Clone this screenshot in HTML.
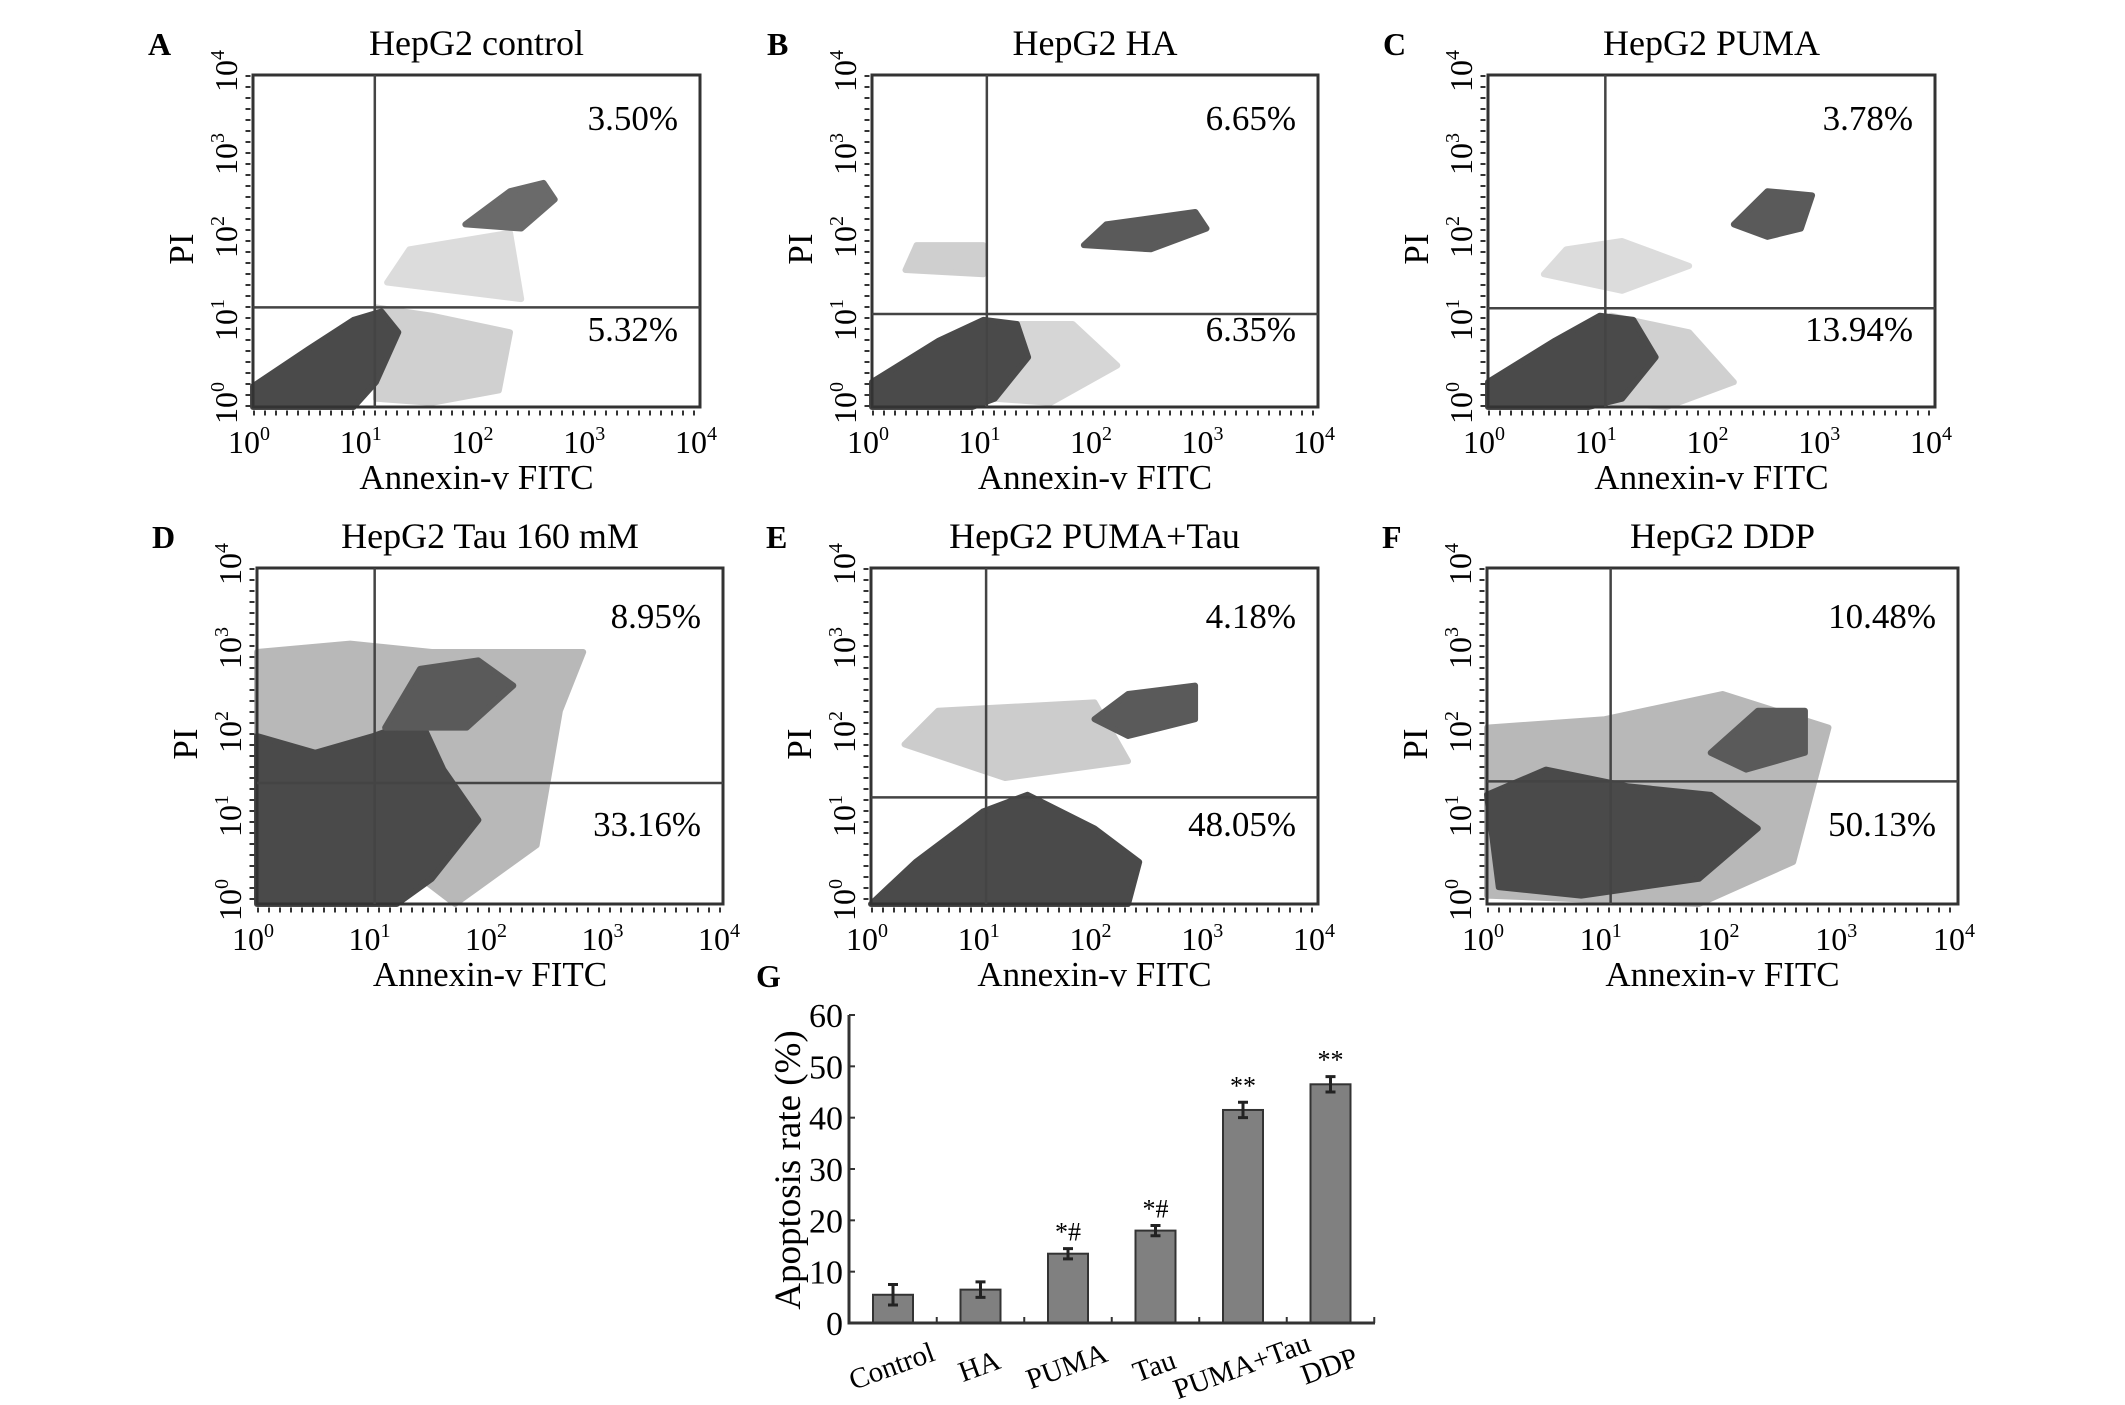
<!DOCTYPE html>
<html><head><meta charset="utf-8"><style>
html,body{margin:0;padding:0;background:#fff;}
svg{display:block;font-family:"Liberation Serif",serif;}
</style></head><body>
<svg id="fig" width="2125" height="1405" viewBox="0 0 2125 1405" xmlns="http://www.w3.org/2000/svg"></svg>
<script>
const NS="http://www.w3.org/2000/svg";
const svg=document.getElementById('fig');
function mk(tag,attrs,parent,text){const e=document.createElementNS(NS,tag);for(const k in attrs)e.setAttribute(k,attrs[k]);if(text!==undefined)e.textContent=text;(parent||svg).appendChild(e);return e;}

// ---- flow panels data ----
const panelLetters=["A","B","C","D","E","F"];
const panelTitles=["HepG2 control","HepG2 HA","HepG2 PUMA","HepG2 Tau 160 mM","HepG2 PUMA+Tau","HepG2 DDP"];
const upperPct=["3.50%","6.65%","3.78%","8.95%","4.18%","10.48%"];
const lowerPct=["5.32%","6.35%","13.94%","33.16%","48.05%","50.13%"];
const gateX=[1.09,1.03,1.05,1.01,1.03,1.05];
const gateY=[1.2,1.12,1.19,1.44,1.27,1.46];
const decadeTicks=["0","1","2","3","4"];
const boxes=[[253,700,75,407],[872,1318,75,407],[1488,1935,75,407],[257,723,568,904],[871,1318,568,904],[1487,1958,568,904]];
const blobs=[
 [{f:"#d0d0d0",p:[[1.1,0.1],[1.1,1.2],[1.6,1.1],[2.3,0.9],[2.2,0.2],[1.6,0.05]]},
  {f:"#dcdcdc",p:[[1.2,1.5],[1.4,1.9],[2.3,2.1],[2.4,1.3]]},
  {f:"#4a4a4a",p:[[0,0],[0,0.25],[0.5,0.7],[0.9,1.05],[1.15,1.15],[1.3,0.9],[1.1,0.3],[0.9,0]]},
  {f:"#6a6a6a",p:[[1.9,2.2],[2.3,2.6],[2.6,2.7],[2.7,2.5],[2.4,2.15]]}],
 [{f:"#d6d6d6",p:[[1.1,0.1],[1.1,1.0],[1.8,1.0],[2.2,0.5],[1.6,0.05]]},
  {f:"#cfcfcf",p:[[0.3,1.65],[0.4,1.95],[1.0,1.95],[1.0,1.6]]},
  {f:"#4a4a4a",p:[[0,0],[0,0.3],[0.6,0.8],[1.0,1.05],[1.3,1.0],[1.4,0.6],[1.1,0.1],[0.9,0]]},
  {f:"#5a5a5a",p:[[1.9,1.95],[2.1,2.2],[2.9,2.35],[3.0,2.15],[2.5,1.9]]}],
 [{f:"#d0d0d0",p:[[1.1,0.05],[1.1,1.1],[1.8,0.9],[2.2,0.3],[1.6,0.0]]},
  {f:"#dcdcdc",p:[[0.5,1.6],[0.7,1.9],[1.2,2.0],[1.8,1.7],[1.2,1.4]]},
  {f:"#4a4a4a",p:[[0,0],[0,0.3],[0.6,0.8],[1.0,1.1],[1.3,1.05],[1.5,0.6],[1.2,0.1],[0.9,0]]},
  {f:"#5a5a5a",p:[[2.2,2.2],[2.5,2.6],[2.9,2.55],[2.8,2.15],[2.5,2.05]]}],
 [{f:"#b8b8b8",p:[[0,1.8],[0,3.0],[0.8,3.1],[1.5,3.0],[2.8,3.0],[2.6,2.3],[2.4,0.7],[1.7,0.0]]},
  {f:"#4a4a4a",p:[[0,0],[0,2.0],[0.5,1.8],[1.0,2.0],[1.4,2.2],[1.6,1.6],[1.9,1.0],[1.5,0.3],[1.2,0]]},
  {f:"#5a5a5a",p:[[1.1,2.1],[1.4,2.8],[1.9,2.9],[2.2,2.6],[1.8,2.1]]}],
 [{f:"#cccccc",p:[[0.3,1.9],[0.6,2.3],[2.0,2.4],[2.3,1.7],[1.2,1.5]]},
  {f:"#4a4a4a",p:[[0,0],[0.4,0.5],[1.0,1.1],[1.4,1.3],[2.0,0.9],[2.4,0.5],[2.3,0],[0,0]]},
  {f:"#5a5a5a",p:[[2.0,2.2],[2.3,2.5],[2.9,2.6],[2.9,2.2],[2.3,2.0]]}],
 [{f:"#b8b8b8",p:[[0,0.1],[0,2.1],[1.0,2.2],[2.0,2.5],[2.9,2.1],[2.6,0.5],[1.8,0.0]]},
  {f:"#4a4a4a",p:[[0.1,0.2],[0,1.3],[0.5,1.6],[1.2,1.4],[1.9,1.3],[2.3,0.9],[1.8,0.3],[0.8,0.1]]},
  {f:"#5a5a5a",p:[[1.9,1.8],[2.3,2.3],[2.7,2.3],[2.7,1.8],[2.2,1.6]]}]
];

for(let i=0;i<6;i++){
  const [L,R,T,B]=boxes[i];
  const xs=d=>L+d/4*(R-L), ys=d=>B-d/4*(B-T);
  const g=mk('g',{});
  
  
  const lt=mk('text',{x:L-105,y:T-20,'font-size':32,'font-weight':'bold'},g,panelLetters[i]);
  
  const tt=mk('text',{x:(L+R)/2,y:T-20,'font-size':36,'text-anchor':'middle'},g,panelTitles[i]);
  
  for(const b of blobs[i]){
    const pg=mk('polygon',{points:b.p.map(q=>xs(q[0])+','+ys(q[1])).join(' '),fill:b.f,stroke:b.f,'stroke-width':6,'stroke-linejoin':'round'},g);
    
  }
  const bx=mk('rect',{x:L,y:T,width:R-L,height:B-T,fill:'none',stroke:'#333','stroke-width':3},g);
  
  mk('line',{x1:L,y1:B+6,x2:R,y2:B+6,stroke:'#333','stroke-width':5,'stroke-dasharray':'2 9'},g);
  mk('line',{x1:L-5,y1:T,x2:L-5,y2:B,stroke:'#333','stroke-width':5,'stroke-dasharray':'2 9'},g);
  const vl=mk('line',{x1:xs(gateX[i]),y1:T,x2:xs(gateX[i]),y2:B,stroke:'#444','stroke-width':2.5},g);
  
  const hl=mk('line',{x1:L,y1:ys(gateY[i]),x2:R,y2:ys(gateY[i]),stroke:'#444','stroke-width':2.5},g);
  
  const row2=i>=3;
  const up=mk('text',{x:R-22,y:row2?T+60:T+55,'font-size':35,'text-anchor':'end'},g,upperPct[i]);
  
  const lo=mk('text',{x:R-22,y:row2?T+268:T+266,'font-size':35,'text-anchor':'end'},g,lowerPct[i]);
  
  decadeTicks.forEach((e,k)=>{
    const tx=mk('text',{x:xs(k)-4,y:B+46,'font-size':32,'text-anchor':'middle'},g);
    
    mk('tspan',{},tx,'10');mk('tspan',{'font-size':20,dy:-13},tx,e);
    const yy=ys(k);
    const ty=mk('text',{x:0,y:0,'font-size':32,'text-anchor':'middle',transform:`translate(${L-16},${yy-4}) rotate(-90)`},g);
    
    mk('tspan',{},ty,'10');mk('tspan',{'font-size':20,dy:-13},ty,e);
  });
  const xl=mk('text',{x:(L+R)/2,y:B+82,'font-size':35,'text-anchor':'middle'},g,'Annexin-v FITC');
  
  const yl=mk('text',{x:0,y:0,'font-size':35,'text-anchor':'middle',transform:`translate(${L-60},${(T+B)/2+8}) rotate(-90)`},g,'PI');
  
}

// ---- bar chart G ----
const barCats=["Control","HA","PUMA","Tau","PUMA+Tau","DDP"];
const barVals=[5.5,6.5,13.5,18,41.5,46.5];
const barErrs=[2,1.5,1,1,1.5,1.5];
const barMarks=["","","*#","*#","**","**"];
const yTicks=[0,10,20,30,40,50,60];
const gAx={x0:849,x1:1375,y0:1323,y60:1015,first:893,step:87.5,bw:40};
const yv=v=>gAx.y0-(v/60)*(gAx.y0-gAx.y60);
const xc=i=>gAx.first+i*gAx.step;
const G=mk('g',{});

const gl=mk('text',{x:756,y:987,'font-size':32,'font-weight':'bold'},G,'G');

barVals.forEach((v,i)=>{
  const r=mk('rect',{x:xc(i)-gAx.bw/2,y:yv(v),width:gAx.bw,height:gAx.y0-yv(v),fill:'#808080',stroke:'#333','stroke-width':2},G);
  
  const e=mk('path',{d:`M${xc(i)} ${yv(v+barErrs[i])}V${yv(v-barErrs[i])}M${xc(i)-5} ${yv(v+barErrs[i])}H${xc(i)+5}M${xc(i)-5} ${yv(v-barErrs[i])}H${xc(i)+5}`,stroke:'#222','stroke-width':3,fill:'none'},G);
  
  if(barMarks[i]){const m=mk('text',{x:xc(i),y:yv(v+barErrs[i])-8,'font-size':26,'text-anchor':'middle'},G,barMarks[i]);
    }
  const c=mk('text',{x:0,y:0,'font-size':29,'text-anchor':'middle',transform:`translate(${xc(i)+2},${gAx.y0+52}) rotate(-20)`},G,barCats[i]);
  
});
const ax=mk('path',{d:`M${gAx.x0} ${gAx.y60}V${gAx.y0}H${gAx.x1}`,stroke:'#333','stroke-width':3,fill:'none'},G);

yTicks.forEach(t=>{
  mk('line',{x1:gAx.x0,y1:yv(t),x2:gAx.x0+6,y2:yv(t),stroke:'#333','stroke-width':2},G);
  const l=mk('text',{x:gAx.x0-6,y:yv(t)+12,'font-size':34,'text-anchor':'end'},G,String(t));
  
});
for(let i=0;i<=6;i++){mk('line',{x1:gAx.first-gAx.step/2+i*gAx.step,y1:gAx.y0,x2:gAx.first-gAx.step/2+i*gAx.step,y2:gAx.y0-6,stroke:'#333','stroke-width':2},G);}
const yt=mk('text',{x:0,y:0,'font-size':37,'text-anchor':'middle',transform:`translate(800,1170) rotate(-90)`},G,'Apoptosis rate (%)');

</script>
</body></html>
